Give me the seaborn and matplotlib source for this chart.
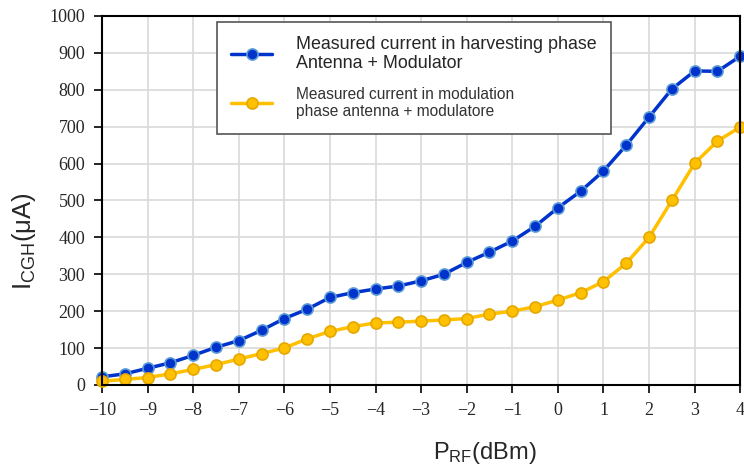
import numpy as np
import pandas as pd
import matplotlib
matplotlib.use("Agg")
import matplotlib.pyplot as plt
import seaborn as sns
from matplotlib.lines import Line2D

p_rf = [-10, -9.5, -9, -8.5, -8, -7.5, -7, -6.5, -6, -5.5, -5, -4.5, -4, -3.5, -3,
        -2.5, -2, -1.5, -1, -0.5, 0, 0.5, 1, 1.5, 2, 2.5, 3, 3.5, 4]
harvesting = [22, 30, 45, 60, 80, 102, 120, 148, 180, 205, 237, 250, 260, 268, 282,
              300, 332, 360, 390, 430, 480, 525, 580, 650, 726, 802, 851, 850, 891]
modulation = [10, 15, 20, 30, 42, 55, 70, 85, 100, 125, 145, 158, 168, 170, 173,
              176, 180, 192, 200, 212, 230, 250, 280, 330, 400, 500, 601, 661, 699]
label_h = "Measured current in harvesting phase\nAntenna + Modulator"
label_m = "Measured current in modulation\nphase antenna + modulatore"
x_ticks = list(range(-10, 5))
y_ticks = list(range(0, 1001, 100))

sns.set_style("white")
plt.rcParams["mathtext.default"] = "regular"

df = pd.DataFrame({
    "x": p_rf * 2,
    "y": harvesting + modulation,
    "series": [label_h] * len(p_rf) + [label_m] * len(p_rf),
})

fig = plt.figure(figsize=(7.44, 4.70), dpi=100)
ax = fig.add_axes([0.137, 0.181, 0.858, 0.785])

palette = {label_h: "#0033CC", label_m: "#FFC000"}
sns.lineplot(data=df, x="x", y="y", hue="series", palette=palette, ax=ax,
             marker="o", markersize=8, linewidth=2.5, legend=False)
lines = ax.get_lines()
edge = {0: "#5B9BD5", 1: "#E6A800"}
for i, ln in enumerate(lines[:2]):
    ln.set_markeredgecolor(edge[i])
    ln.set_markeredgewidth(1.2)
    ln.set_clip_on(False)

ax.set_xlim(-10, 4)
ax.set_ylim(0, 1000)
ax.set_xticks(x_ticks)
ax.set_yticks(y_ticks)
ax.set_xticklabels([str(t).replace("-", "\u2212") for t in x_ticks],
                   family="Liberation Serif", fontsize=13)
ax.set_yticklabels([str(t) for t in y_ticks], family="Liberation Serif", fontsize=13)
ax.grid(True, color="#d9d9d9", linewidth=1.2)
ax.set_axisbelow(True)
for s in ax.spines.values():
    s.set_visible(True)
    s.set_color("black")
    s.set_linewidth(1.5)
ax.tick_params(axis="both", direction="out", length=6, width=1.2, color="black",
               left=True, bottom=True, pad=6)

ax.set_xlabel("P$_{RF}$(dBm)", family="Liberation Sans", fontsize=17)
ax.set_ylabel("I$_{CGH}$(\u03bcA)", family="Liberation Sans", fontsize=18.5)
ax.xaxis.set_label_coords(0.60, -0.15)
ax.yaxis.set_label_coords(-0.100, 0.39)

h1 = Line2D([], [], color="#0033CC", lw=2.5, marker="o", markersize=8,
            markeredgecolor="#5B9BD5", markeredgewidth=1.2)
h2 = Line2D([], [], color="#FFC000", lw=2.5, marker="o", markersize=8,
            markeredgecolor="#E6A800", markeredgewidth=1.2)
leg = ax.legend([h1, h2], [label_h, label_m], loc="upper left",
                bbox_to_anchor=(0.18, 0.985), frameon=True, fancybox=False,
                edgecolor="#555555", framealpha=1, handlelength=2.3,
                borderpad=0.8, labelspacing=0.8, handletextpad=1.3,
                borderaxespad=0.0,
                prop={"family": "Liberation Sans", "size": 12.9})
leg.get_frame().set_linewidth(1.2)
texts = leg.get_texts()
texts[0].set_linespacing(1.2)
texts[1].set_fontsize(11.2)
texts[1].set_color("#333333")
texts[1].set_linespacing(1.2)

fig.savefig("out.png", dpi=100)
